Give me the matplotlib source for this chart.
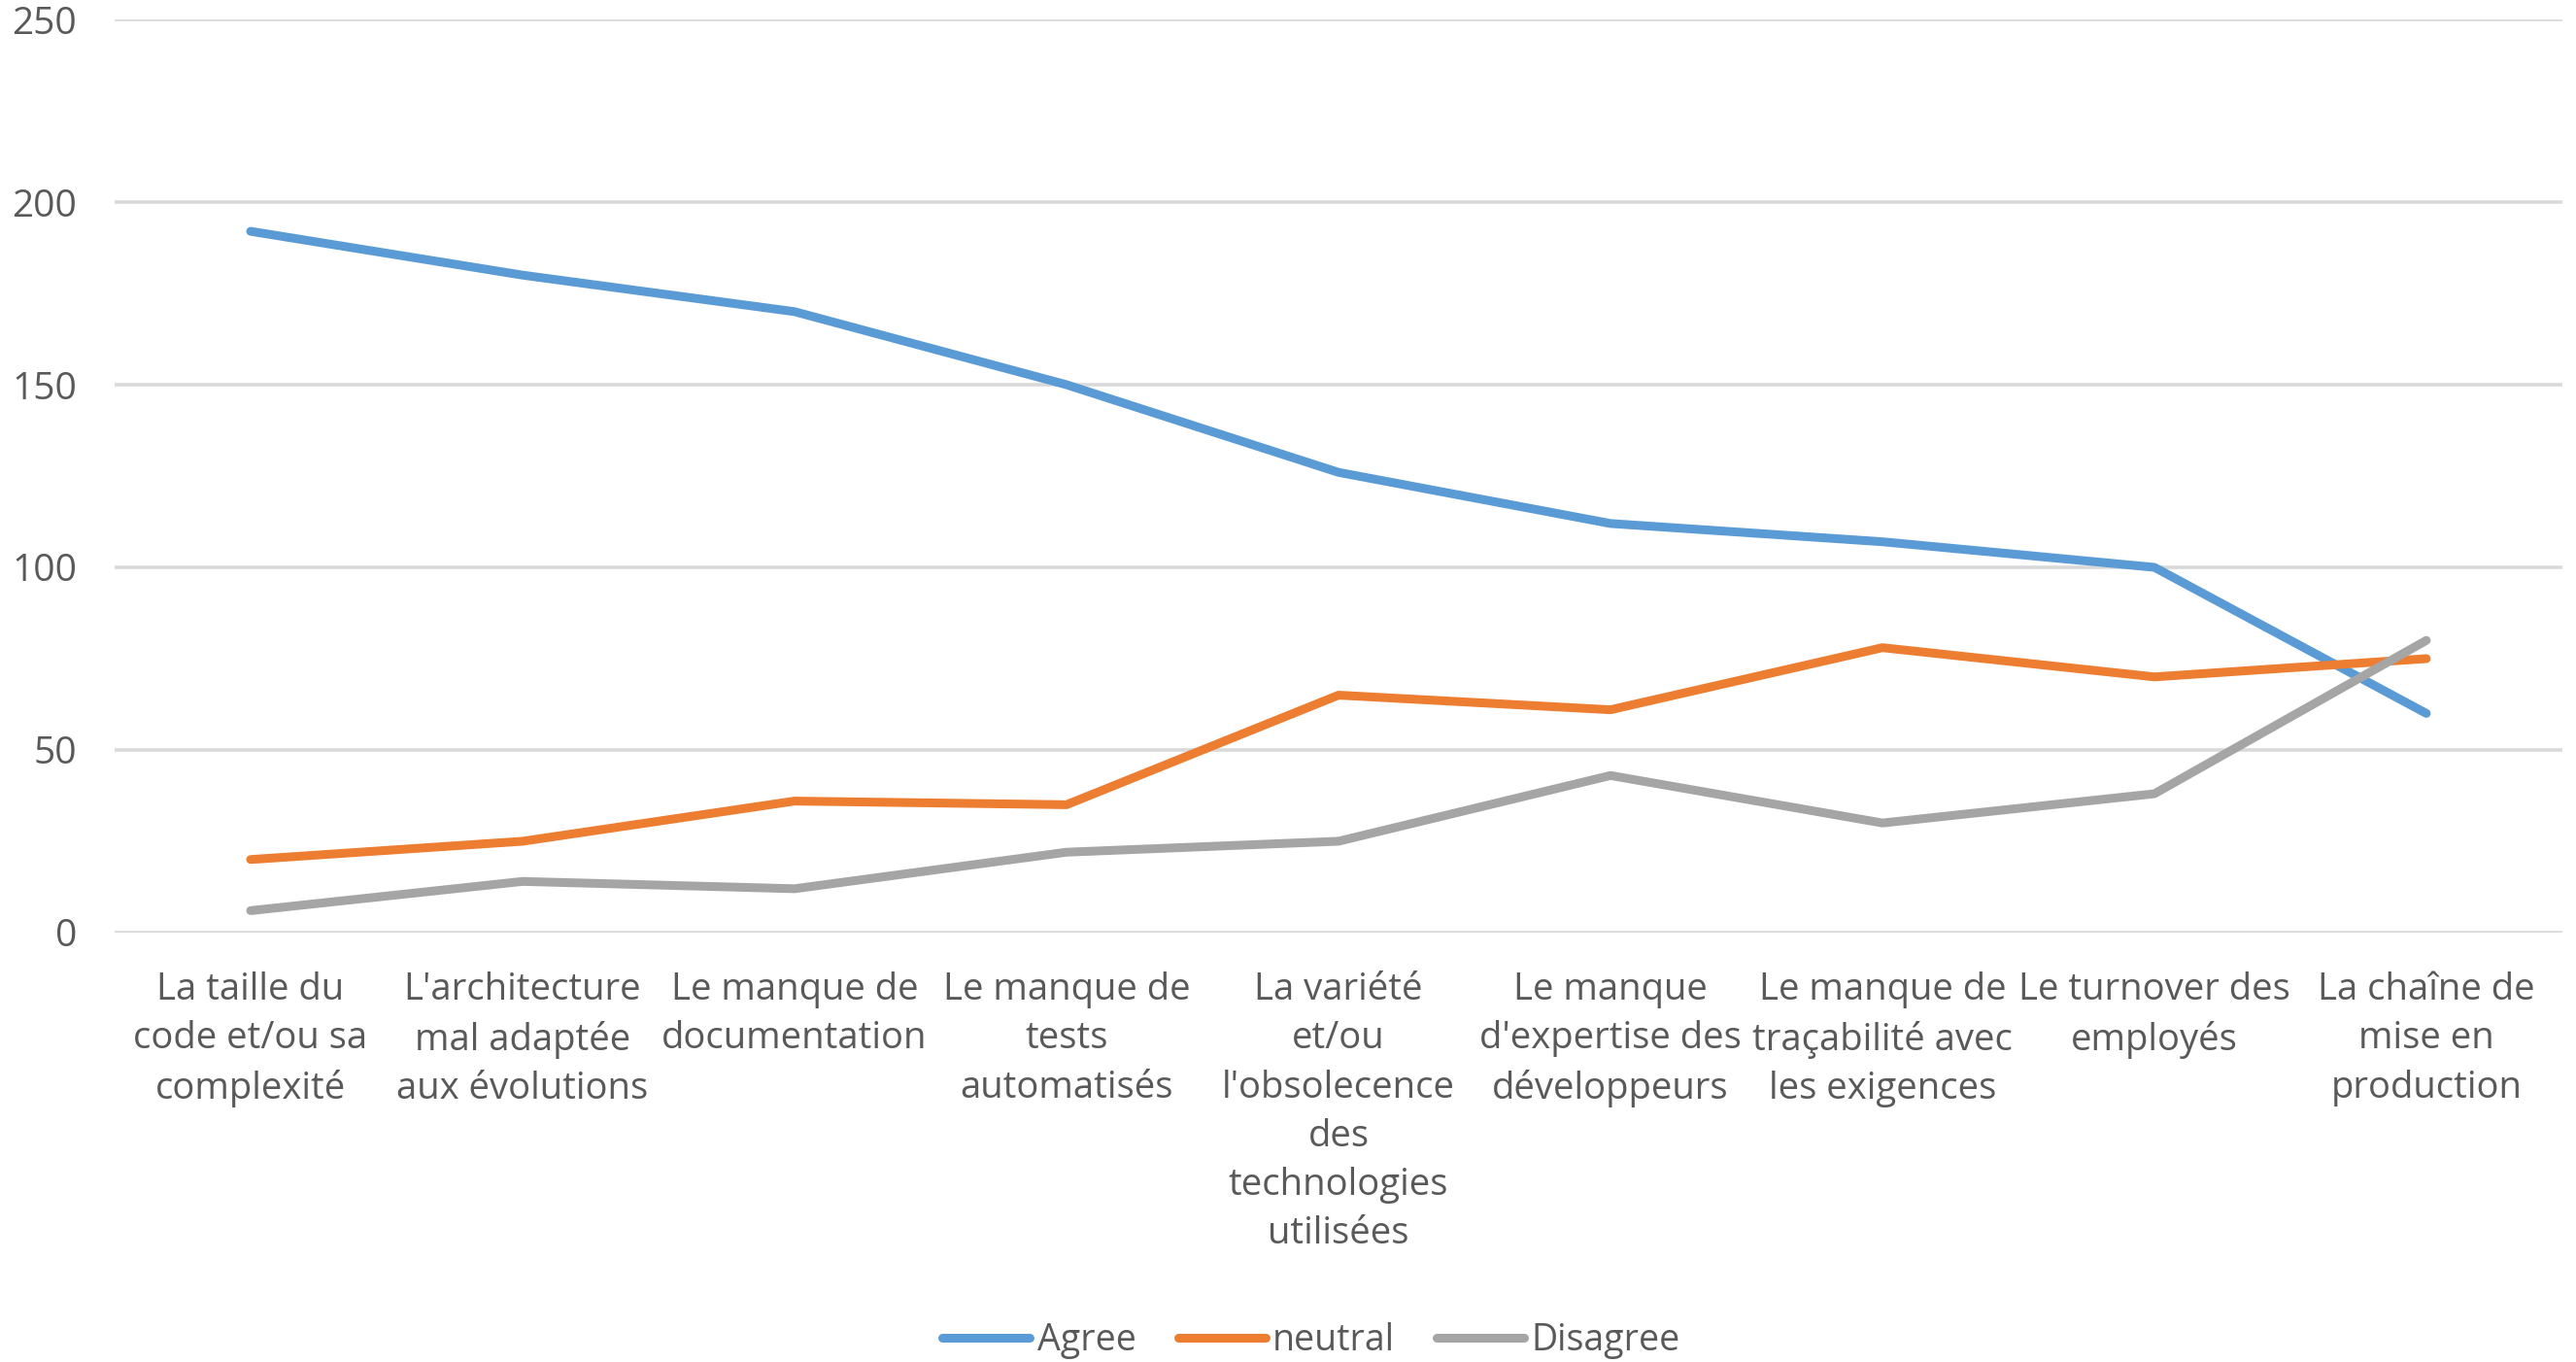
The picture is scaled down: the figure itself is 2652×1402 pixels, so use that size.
import matplotlib
matplotlib.use("Agg")
import matplotlib.pyplot as plt

categories = [
    "La taille du\ncode et/ou sa\ncomplexité",
    "L'architecture\nmal adaptée\naux évolutions",
    "Le manque de\ndocumentation",
    "Le manque de\ntests\nautomatisés",
    "La variété\net/ou\nl'obsolecence\ndes\ntechnologies\nutilisées",
    "Le manque\nd'expertise des\ndéveloppeurs",
    "Le manque de\ntraçabilité avec\nles exigences",
    "Le turnover des\nemployés",
    "La chaîne de\nmise en\nproduction",
]
agree = [192, 180, 170, 150, 126, 112, 107, 100, 60]
neutral = [20, 25, 36, 35, 65, 61, 78, 70, 75]
disagree = [6, 14, 12, 22, 25, 43, 30, 38, 80]
y_ticks = [0, 50, 100, 150, 200, 250]

series = [("Agree", agree, "#5B9BD5"),
          ("neutral", neutral, "#ED7D31"),
          ("Disagree", disagree, "#A5A5A5")]

plt.rcParams['font.family'] = ['Open Sans', 'DejaVu Sans']
text_color = "#595959"

fig = plt.figure(figsize=(26.52, 14.02), dpi=100)
ax = fig.add_axes([0.0445, 0.3153, 0.9502, 0.6704])

x = list(range(len(categories)))
for name, vals, color in series:
    ax.plot(x, vals, color=color, lw=6.5, label=name,
            solid_capstyle='round', solid_joinstyle='round', zorder=3)

ax.set_xlim(-0.5, len(categories) - 0.5)
ax.set_ylim(0, 250)
ax.set_yticks(y_ticks)
ax.set_xticks(x)
ax.set_xticklabels(categories, linespacing=1.42)
ax.grid(axis='y', color="#D9D9D9", lw=2.6, zorder=0)
ax.grid(axis='x', visible=False)
for s in ax.spines.values():
    s.set_visible(False)
ax.tick_params(axis='both', length=0, labelsize=27.5, colors=text_color)
ax.tick_params(axis='y', labelsize=28, pad=28)
ax.tick_params(axis='x', pad=29)

leg = ax.legend(loc='center', bbox_to_anchor=(1350 / 2652, 1 - 1380 / 1402),
                bbox_transform=fig.transFigure, ncol=3, frameon=False,
                fontsize=27, handlelength=2.4, handletextpad=0.2,
                columnspacing=1.15)
for t in leg.get_texts():
    t.set_color(text_color)

fig.savefig("out.png", dpi=100, facecolor="white")
